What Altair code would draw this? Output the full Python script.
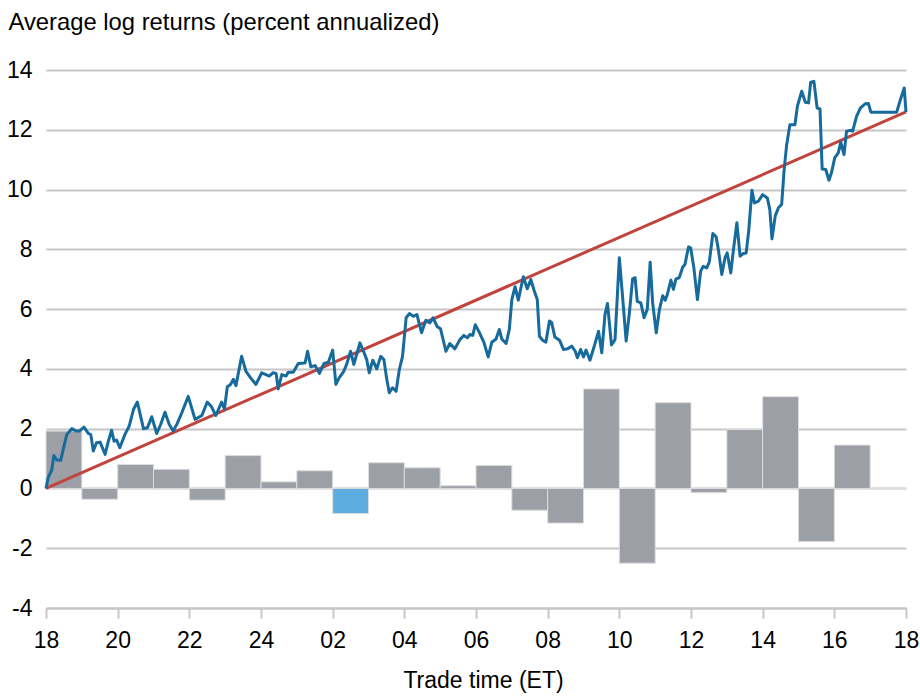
import altair as alt
import pandas as pd

# Hourly bars: hour offset from 18:00 ET and average log return
bar_start = list(range(24))
bar_values = [1.92, -0.36, 0.80, 0.64, -0.39, 1.10, 0.22, 0.59, -0.84, 0.86, 0.69, 0.09,
              0.77, -0.73, -1.16, 3.33, -2.50, 2.87, -0.14, 1.97, 3.07, -1.78, 1.45, 0.0]
highlight_hour = 8

# Cumulative intraday line (hours since 18:00 ET, percent annualized)
line_hours = [0.00, 0.06, 0.16, 0.22, 0.30, 0.41, 0.50, 0.58, 0.72, 0.84, 0.93, 1.06, 1.18, 1.25,
              1.32, 1.41, 1.51, 1.65, 1.74, 1.83, 1.90, 1.97, 2.06, 2.20, 2.32, 2.44, 2.55, 2.72,
              2.83, 2.95, 3.09, 3.20, 3.32, 3.44, 3.55, 3.66, 3.79, 3.97, 4.16, 4.35, 4.50, 4.62,
              4.74, 4.90, 4.98, 5.06, 5.15, 5.23, 5.30, 5.46, 5.58, 5.71, 5.86, 6.02, 6.14, 6.23,
              6.34, 6.42, 6.48, 6.58, 6.70, 6.76, 6.90, 7.04, 7.23, 7.30, 7.39, 7.51, 7.63, 7.76,
              7.88, 8.00, 8.09, 8.18, 8.31, 8.39, 8.50, 8.59, 8.67, 8.76, 8.86, 8.95, 9.02, 9.12,
              9.23, 9.34, 9.43, 9.51, 9.58, 9.67, 9.77, 9.86, 9.95, 10.05, 10.14, 10.25, 10.35,
              10.48, 10.60, 10.71, 10.80, 10.92, 11.01, 11.16, 11.27, 11.41, 11.55, 11.66, 11.76,
              11.83, 11.91, 11.98, 12.09, 12.22, 12.34, 12.44, 12.56, 12.65, 12.72, 12.84, 12.93,
              13.00, 13.09, 13.18, 13.32, 13.43, 13.53, 13.62, 13.71, 13.77, 13.86, 13.95, 14.05,
              14.11, 14.20, 14.33, 14.44, 14.55, 14.67, 14.77, 14.83, 14.92, 15.00, 15.07, 15.18,
              15.30, 15.42, 15.51, 15.60, 15.67, 15.78, 15.88, 16.00, 16.09, 16.19, 16.28, 16.37,
              16.44, 16.50, 16.60, 16.69, 16.78, 16.86, 16.93, 17.03, 17.12, 17.21, 17.28, 17.34,
              17.44, 17.51, 17.58, 17.67, 17.77, 17.83, 17.93, 17.99, 18.08, 18.18, 18.27, 18.34,
              18.44, 18.51, 18.61, 18.70, 18.76, 18.86, 18.95, 19.01, 19.11, 19.18, 19.28, 19.37,
              19.46, 19.54, 19.61, 19.70, 19.77, 19.88, 20.00, 20.13, 20.20, 20.26, 20.35, 20.44,
              20.53, 20.60, 20.67, 20.76, 20.90, 20.97, 21.09, 21.19, 21.28, 21.34, 21.43, 21.52,
              21.60, 21.66, 21.76, 21.85, 21.92, 22.01, 22.11, 22.18, 22.27, 22.34, 22.44, 22.51,
              22.62, 22.73, 22.86, 22.95, 23.02, 23.74, 23.85, 23.95, 24.00]
line_values = [0.00, 0.36, 0.61, 1.10, 0.95, 0.94, 1.41, 1.80, 2.00, 1.92, 1.92, 2.05, 1.84, 1.80,
               1.25, 1.53, 1.55, 1.14, 1.58, 1.95, 1.58, 1.62, 1.36, 1.80, 2.08, 2.64, 2.89, 2.00,
               2.03, 2.40, 1.84, 2.14, 2.55, 2.14, 1.92, 2.17, 2.53, 3.08, 2.31, 2.44, 2.89, 2.73,
               2.44, 2.89, 2.66, 3.40, 3.48, 3.65, 3.44, 4.42, 3.92, 3.70, 3.48, 3.87, 3.81, 3.76,
               3.87, 3.85, 3.33, 3.81, 3.76, 3.89, 3.89, 4.18, 4.20, 4.59, 4.07, 4.11, 3.85, 4.18,
               4.22, 4.63, 3.48, 3.70, 3.92, 4.15, 4.59, 4.15, 4.48, 4.87, 4.59, 4.31, 3.87, 4.29,
               4.00, 4.42, 4.31, 3.65, 3.20, 3.37, 3.25, 3.98, 4.42, 5.71, 5.85, 5.76, 5.82,
               5.21, 5.63, 5.54, 5.71, 5.41, 5.34, 4.59, 4.85, 4.67, 4.98, 5.12, 5.04,
               5.15, 5.12, 5.48, 5.23, 4.89, 4.40, 4.89, 5.00, 5.32, 5.00, 4.85, 5.32,
               6.32, 6.75, 6.30, 7.08, 6.68, 6.99, 6.63, 6.32, 5.09, 4.96, 4.89, 5.60,
               5.56, 5.07, 4.96, 4.65, 4.67, 4.76, 4.59, 4.37, 4.65, 4.40, 4.63, 4.29,
               4.76, 5.26, 4.54, 5.82, 6.19, 4.80, 4.98, 7.72, 6.43, 4.93, 5.87, 7.01,
               7.05, 6.26, 6.21, 5.71, 5.99, 7.57, 6.21, 5.21, 5.99, 6.45, 6.30, 6.49,
               6.97, 6.66, 7.01, 7.05, 7.41, 7.49, 8.08, 8.05, 7.38, 6.32, 7.27, 7.43,
               7.38, 7.57, 8.53, 8.42, 8.02, 7.16, 7.72, 7.88, 7.21, 7.94, 8.89, 7.77,
               7.86, 7.88, 8.61, 9.98, 9.55, 9.61, 9.83, 9.72, 9.33, 8.35, 9.11, 9.39,
               9.50, 10.67, 11.50, 12.17, 12.17, 12.79, 13.29, 12.92, 12.90, 13.59, 13.62, 12.73,
               12.70, 10.69, 10.67, 10.31, 10.56, 11.06, 11.23, 11.58, 11.17, 11.95, 11.98, 11.95,
               12.45, 12.73, 12.87, 12.88, 12.59, 12.59, 13.03, 13.40, 12.59]

# Straight trend line
trend_hours = [0, 24]
trend_values = [0.0, 12.6]

x_ticks = list(range(0, 25, 2))
y_ticks = list(range(-4, 15, 2))

bars = pd.DataFrame({"start": bar_start, "end": [s + 1 for s in bar_start], "value": bar_values})
line = pd.DataFrame({"h": line_hours, "v": line_values})
trend = pd.DataFrame({"h": trend_hours, "v": trend_values})

FONT = "Liberation Sans"

label_expr = ("datum.value == 6 ? '24' : (((datum.value + 18) % 24) < 10 ? '0' + ((datum.value + 18) % 24) "
              ": '' + ((datum.value + 18) % 24))")

xscale = alt.Scale(domain=[0, 24], nice=False, zero=False)
yscale = alt.Scale(domain=[-4, 14], nice=False)

xaxis = alt.Axis(values=x_ticks, labelExpr=label_expr, title="Trade time (ET)", grid=False,
                 domain=True, domainColor="#c6c6c6", domainWidth=2,
                 ticks=True, tickSize=10, tickColor="#c6c6c6", tickWidth=2,
                 labelFontSize=23, labelFont=FONT, labelColor="#000000", labelPadding=11,
                 labelFlush=False, titleFontSize=23, titleFont=FONT, titleFontWeight="normal",
                 titleColor="#000000", titlePadding=17, titleX=437, titleAlign="center")
yaxis = alt.Axis(values=y_ticks, labelExpr="'' + datum.value",
                 title="Average log returns (percent annualized)", grid=True,
                 gridColor="#c6c6c6", gridWidth=2, domain=False, ticks=False,
                 labelFontSize=23, labelFont=FONT, labelColor="#000000", labelPadding=14,
                 titleAngle=0, titleAlign="left", titleBaseline="alphabetic",
                 titleX=-38, titleY=-41, titleFontSize=23.8, titleFont=FONT,
                 titleFontWeight="normal", titleColor="#000000")

bar_layer = alt.Chart(bars).mark_bar(stroke="#dcdcdc", strokeWidth=1).encode(
    x=alt.X("start:Q", scale=xscale, axis=xaxis),
    x2="end:Q",
    y=alt.Y("value:Q", scale=yscale, axis=yaxis),
    y2=alt.datum(0),
    color=alt.condition(alt.datum.start == highlight_hour, alt.value("#5eade0"), alt.value("#9d9fa7")),
)

trend_layer = alt.Chart(trend).mark_line(color="#c0443e", strokeWidth=3).encode(
    x=alt.X("h:Q", scale=xscale, axis=xaxis),
    y=alt.Y("v:Q", scale=yscale, axis=yaxis),
)

line_layer = alt.Chart(line).mark_line(color="#176a9c", strokeWidth=3, strokeJoin="round").encode(
    x=alt.X("h:Q", scale=xscale, axis=xaxis),
    y=alt.Y("v:Q", scale=yscale, axis=yaxis),
)

chart = alt.layer(bar_layer, trend_layer, line_layer).properties(
    width=860, height=538,
    autosize=alt.AutoSizeParams(type="none"),
    padding={"left": 46, "top": 70, "right": 14, "bottom": 88},
    background="#ffffff",
).configure_view(stroke=None)

chart.save("out.html", embed_options={"renderer": "svg", "actions": False})
